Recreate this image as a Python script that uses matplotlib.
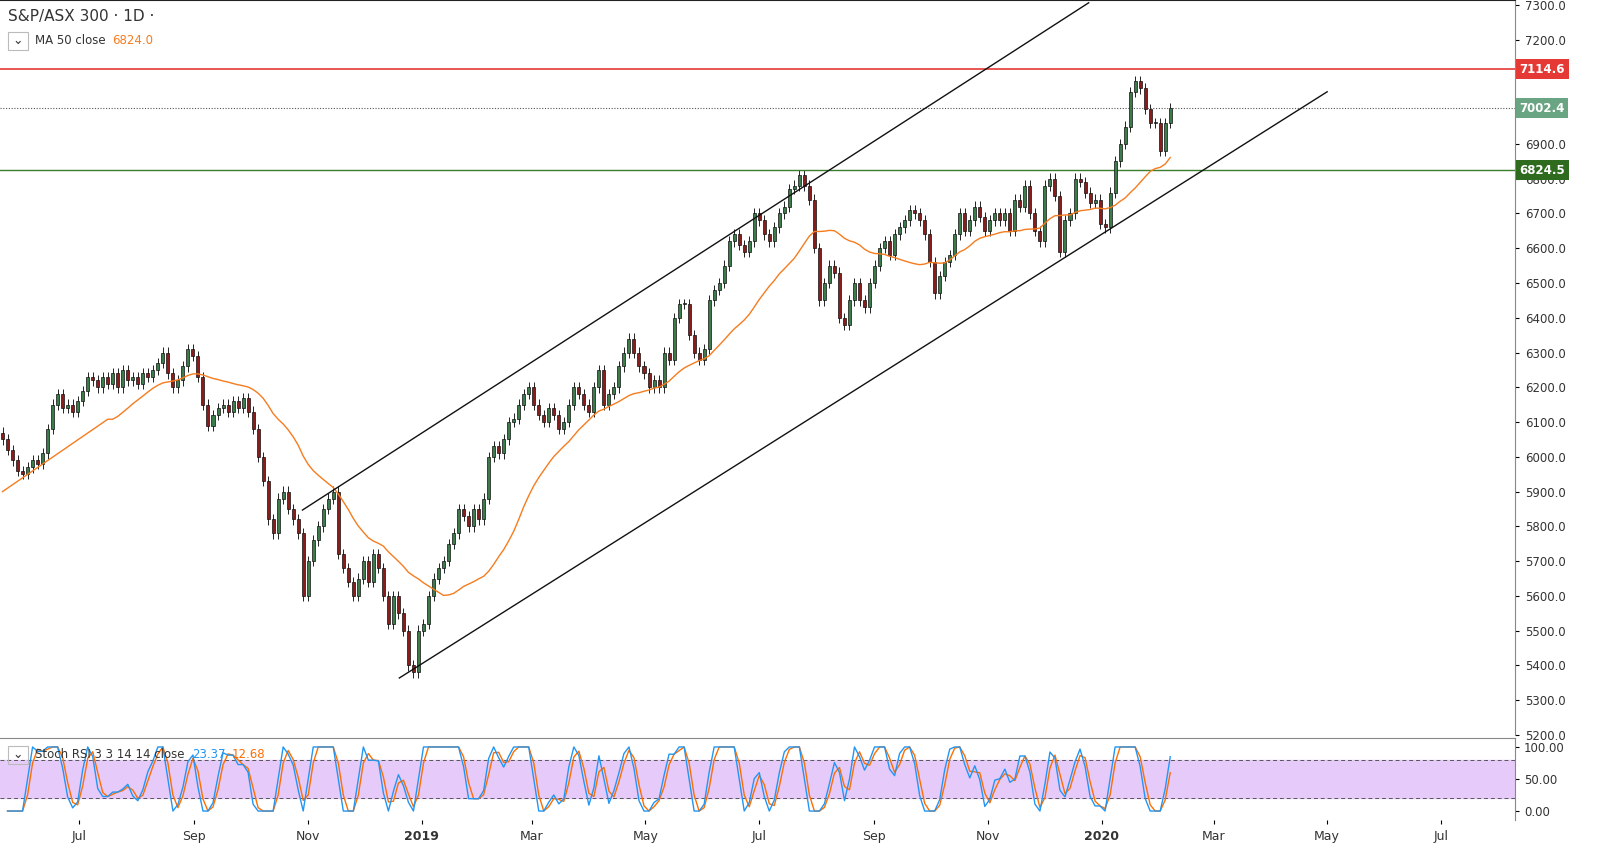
import numpy as np
import pandas as pd
import matplotlib
matplotlib.use("Agg")
import matplotlib.pyplot as plt
from matplotlib.patches import Rectangle

# Closing prices, one candle per ~2.7 calendar days
closes = [
    6050, 6020, 5990, 5960, 5950, 5970, 5990, 5980, 6010, 6080,
    6150, 6180, 6140, 6150, 6130, 6160, 6190, 6230, 6220, 6200,
    6230, 6210, 6240, 6200, 6250, 6220, 6230, 6210, 6240, 6230,
    6250, 6270, 6300, 6240, 6200, 6220, 6260, 6310, 6290, 6230,
    6150, 6090, 6120, 6140, 6150, 6130, 6160, 6140, 6170, 6130,
    6080, 6000, 5930, 5820, 5780, 5880, 5900, 5850, 5820, 5780,
    5600, 5700, 5760, 5800, 5850, 5880, 5900, 5720, 5680, 5640,
    5600, 5650, 5700, 5640, 5720, 5680, 5600, 5520, 5600, 5550,
    5500, 5400, 5380, 5500, 5520, 5600, 5650, 5680, 5700, 5750,
    5780, 5850, 5830, 5800, 5850, 5820, 5880, 6000, 6030, 6010,
    6050, 6100, 6110, 6150, 6180, 6200, 6150, 6120, 6100, 6140,
    6120, 6080, 6100, 6150, 6200, 6180, 6150, 6130, 6200, 6250,
    6150, 6180, 6200, 6260, 6300, 6340, 6300, 6260, 6240, 6200,
    6220, 6200, 6300, 6280, 6400, 6440, 6440, 6350, 6300, 6280,
    6310, 6450, 6480, 6500, 6550, 6620, 6640, 6610, 6590, 6620,
    6700, 6680, 6640, 6620, 6660, 6700, 6720, 6770, 6780, 6810,
    6780, 6740, 6600, 6450, 6500, 6550, 6530, 6400, 6380, 6450,
    6500, 6450, 6430, 6500, 6550, 6600, 6620, 6580, 6640, 6660,
    6680, 6710, 6700, 6680, 6640, 6560, 6470, 6520, 6560, 6580,
    6640, 6700, 6650, 6680, 6720, 6690, 6650, 6680, 6700, 6680,
    6700, 6650, 6740, 6720, 6780, 6700, 6650, 6620, 6780, 6800,
    6750, 6590, 6680, 6700, 6800, 6790, 6760, 6730, 6740, 6670,
    6660, 6760, 6850, 6900, 6950, 7050, 7080, 7060, 7000, 6960,
    6960, 6880, 6960, 7002,
]
first_open = 6070
start_date = pd.Timestamp("2018-05-21")
days_per_bar = 2.69

hlines = {"red": 7114.6, "green": 6824.5, "last": 7002.4}
# trendline endpoints: (date, price)
upper_channel = [("2018-10-29", 5847), ("2019-12-25", 7306)]
lower_channel = [("2018-12-20", 5364), ("2020-05-01", 7050)]
month_ticks = ["2018-07-01", "2018-09-01", "2018-11-01", "2019-01-01", "2019-03-01", "2019-05-01",
               "2019-07-01", "2019-09-01", "2019-11-01", "2020-01-01", "2020-03-01", "2020-05-01", "2020-07-01"]
month_labels = ["Jul", "Sep", "Nov", "2019", "Mar", "May", "Jul", "Sep", "Nov", "2020", "Mar", "May", "Jul"]


def to_bar(d):
    return (pd.Timestamp(d) - start_date).days / days_per_bar


c = np.array(closes, dtype=float)
o = np.concatenate([[first_open], c[:-1]])
n = len(c)
x = np.arange(n)
hi = np.maximum(o, c) + 15
lo = np.minimum(o, c) - 15
s = pd.Series(c)
ma = s.rolling(22, min_periods=1).mean()
ma.iloc[:22] = np.linspace(5900, ma.iloc[22], 22)

# Stoch RSI (windows scaled to the ~2.7-day candles)
d = s.diff()
up = d.clip(lower=0).ewm(alpha=1 / 5, min_periods=1).mean()
dn = (-d.clip(upper=0)).ewm(alpha=1 / 5, min_periods=1).mean()
rsi = 100 - 100 / (1 + up / dn.replace(0, 1e-9))
rmin = rsi.rolling(5, min_periods=1).min()
rmax = rsi.rolling(5, min_periods=1).max()
st = 100 * (rsi - rmin) / (rmax - rmin).replace(0, 1)
k = st.rolling(2, min_periods=1).mean()
dd = k.rolling(2, min_periods=1).mean()

fig = plt.figure(figsize=(16, 8.6), dpi=100)
W, H = 1600, 860
ax = fig.add_axes([0, 1 - 735 / H, 1515 / W, 735 / H])
ax2 = fig.add_axes([0, 1 - 820 / H, 1515 / W, 82 / H], sharex=ax)

xmax = 1515 / 5.02
ax.set_xlim(-0.5, xmax)
ax.set_ylim(5200, 7314)

for i in range(n):
    col = "#3a7d4a" if c[i] >= o[i] else "#8b1c1c"
    ax.vlines(x[i], lo[i], hi[i], color="#222", lw=0.7, zorder=2)
    ax.add_patch(Rectangle((x[i] - 0.3, min(o[i], c[i])), 0.6, max(abs(c[i] - o[i]), 2),
                           facecolor=col, edgecolor="#111", lw=0.5, zorder=3))
ax.plot(x, ma, color="#f57c1f", lw=1, zorder=4)

for seg in (upper_channel, lower_channel):
    ax.plot([to_bar(seg[0][0]), to_bar(seg[1][0])], [seg[0][1], seg[1][1]], color="#111", lw=1, zorder=5)

ax.axhline(hlines["red"], color="#e53935", lw=1.2)
ax.axhline(hlines["green"], color="#3a7d2a", lw=1)
ax.axhline(hlines["last"], color="#555", lw=0.8, ls=(0, (1, 1.5)))

ax.yaxis.tick_right()
# 7000 and 7100 sit under the price tags
yt = [v for v in range(5200, 7301, 100) if v not in (7000, 7100)]
ax.set_yticks(yt)
ax.set_yticklabels([f"{v:.1f}" for v in yt], fontsize=8.5, color="#333")
ax.tick_params(axis="y", length=3, pad=4)
ax.tick_params(axis="x", bottom=False, labelbottom=False)
for sp in ("left", "bottom"):
    ax.spines[sp].set_visible(False)
ax.spines["top"].set_color("#222")
ax.spines["right"].set_color("#888")

for val, fc in ((hlines["red"], "#e53935"), (hlines["last"], "#6aa583"), (hlines["green"], "#2e6b1e")):
    ax.text(1.003, val, f"{val:.1f}", transform=ax.get_yaxis_transform(), va="center", ha="left",
            fontsize=8.5, color="white", fontweight="bold",
            bbox=dict(boxstyle="square,pad=0.3", fc=fc, ec="none"), zorder=10, clip_on=False)

fig.text(8 / W, 1 - 17 / H, "S&P/ASX 300 · 1D ·", fontsize=11, color="#333", va="center")
fig.text(35 / W, 1 - 41 / H, "MA 50 close", fontsize=8.5, color="#333", va="center")
fig.text(112 / W, 1 - 41 / H, "6824.0", fontsize=8.5, color="#f57c1f", va="center")
fig.patches.append(Rectangle((8 / W, 1 - 50 / H), 20 / W, 18 / H, transform=fig.transFigure,
                             fill=False, ec="#bbb", lw=0.8))
fig.text(18 / W, 1 - 41 / H, "⌄", fontsize=9, ha="center", va="center", color="#333")

# stoch panel
ax2.set_ylim(-14, 114)
ax2.axhspan(20, 80, color="#e6cbfa", zorder=0)
ax2.axhline(80, color="#555", lw=0.7, ls=(0, (4, 3)))
ax2.axhline(20, color="#555", lw=0.7, ls=(0, (4, 3)))
ax2.plot(x, dd, color="#ff6d00", lw=1)
ax2.plot(x, k, color="#2196f3", lw=1)
ax2.yaxis.tick_right()
ax2.set_yticks([0, 50, 100])
ax2.set_yticklabels(["0.00", "50.00", "100.00"], fontsize=8.5, color="#333")
ax2.set_xticks([to_bar(m) for m in month_ticks])
ax2.set_xticklabels(month_labels, fontsize=9, color="#333")
for lbl, txt in zip(ax2.get_xticklabels(), month_labels):
    if txt in ("2019", "2020"):
        lbl.set_fontweight("bold")
ax2.tick_params(axis="x", length=3, pad=4)
ax2.tick_params(axis="y", length=3)
for sp in ("left", "bottom"):
    ax2.spines[sp].set_visible(False)
ax2.spines["top"].set_color("#888")
ax2.spines["right"].set_color("#888")
fig.patches.append(Rectangle((8 / W, 1 - 764 / H), 20 / W, 18 / H, transform=fig.transFigure,
                             fill=False, ec="#bbb", lw=0.8))
fig.text(18 / W, 1 - 755 / H, "⌄", fontsize=9, ha="center", va="center", color="#333")
fig.text(35 / W, 1 - 755 / H, "Stoch RSI 3 3 14 14 close", fontsize=8.5, color="#333", va="center")
fig.text(192 / W, 1 - 755 / H, "23.37", fontsize=8.5, color="#2196f3", va="center")
fig.text(232 / W, 1 - 755 / H, "12.68", fontsize=8.5, color="#ff6d00", va="center")

fig.savefig("out.png", dpi=100)
